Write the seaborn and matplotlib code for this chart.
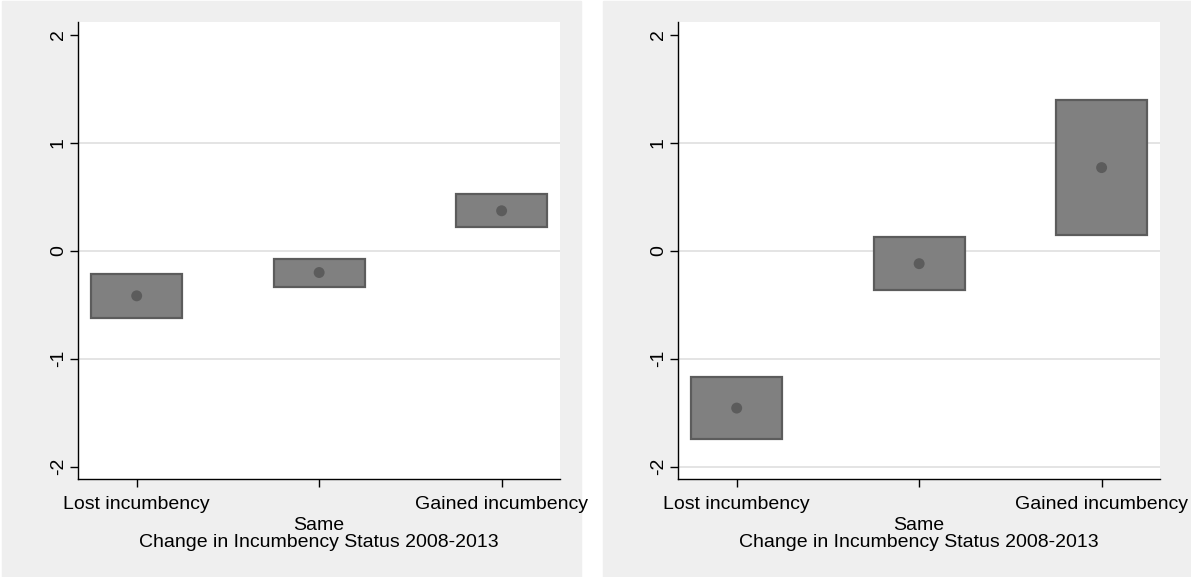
import numpy as np
import pandas as pd
import matplotlib
matplotlib.use("Agg")
import matplotlib.pyplot as plt
from matplotlib.patches import Rectangle
import seaborn as sns

# Categories of incumbency change
categories = ["Lost incumbency", "Same", "Gained incumbency"]

# Left panel: point estimates and confidence bounds
left_mean = [-0.417, -0.201, 0.371]
left_lo = [-0.621, -0.334, 0.225]
left_hi = [-0.213, -0.074, 0.528]

# Right panel: point estimates and confidence bounds
right_mean = [-1.457, -0.119, 0.771]
right_lo = [-1.747, -0.360, 0.144]
right_hi = [-1.170, 0.128, 1.398]

y_ticks = [-2, -1, 0, 1, 2]
left_grid = [-1, 0, 1]
right_grid = [-2, -1, 0, 1]
x_title = "Change in Incumbency Status 2008-2013"

sns.set_theme(style="white")
plt.rcParams["font.family"] = ["Liberation Sans", "DejaVu Sans"]

W, H = 1191, 577
fig = plt.figure(figsize=(W / 100, H / 100), dpi=100)
fig.patch.set_facecolor("white")

bg = "#efefef"
fig.patches.append(Rectangle((2 / W, 0), (581 - 2) / W, 1 - 1 / H,
                             transform=fig.transFigure, color=bg, zorder=-10))
fig.patches.append(Rectangle((603 / W, 0), (W - 603) / W, 1 - 1 / H,
                             transform=fig.transFigure, color=bg, zorder=-10))

ax_w = (560 - 78.3) / W
ax_b = 1 - 479 / H
ax_h = (479 - 22) / H
axes = [fig.add_axes([78.3 / W, ax_b, ax_w, ax_h]),
        fig.add_axes([678.3 / W, ax_b, ax_w, ax_h])]

panels = [(left_mean, left_lo, left_hi, left_grid),
          (right_mean, right_lo, right_hi, right_grid)]

box_fill = "#808080"
box_edge = "#5c5c5c"

for ax, (mean, lo, hi, grid) in zip(axes, panels):
    df = pd.DataFrame({"cat": categories, "mean": mean, "lo": lo, "hi": hi})
    ax.set_facecolor("white")
    for g in grid:
        ax.axhline(g, color="#e4e4e4", lw=1.4, zorder=0)
    xpos = np.arange(len(categories))
    ax.bar(xpos, df["hi"] - df["lo"], bottom=df["lo"], width=0.5,
           color=box_fill, edgecolor=box_edge, linewidth=1.6, zorder=2)
    sns.scatterplot(x=xpos, y=df["mean"], ax=ax, color=box_edge, s=62,
                    edgecolor="none", zorder=3)

    ax.set_xlim(-0.32, 2.32)
    ax.set_ylim(-2.114, 2.12)
    ax.set_xticks(xpos)
    ax.set_xticklabels(categories, fontsize=14, color="black")
    ax.set_yticks(y_ticks)
    ax.set_yticklabels([str(t) for t in y_ticks], fontsize=14, color="black",
                       rotation=90, va="center")
    ax.tick_params(axis="both", direction="out", length=5.8, width=1.0,
                   color="black", left=True, bottom=True)
    ax.tick_params(axis="y", pad=2.5)
    ax.tick_params(axis="x", pad=6.7)
    ticks = ax.xaxis.get_major_ticks()
    ticks[1].set_pad(21.7)
    ax.set_xlabel(x_title, fontsize=14, color="black", va="center")
    ax.xaxis.set_label_coords(0.5, -(542.7 - 479) / (479 - 22))
    ax.set_ylabel("")
    for side in ["top", "right"]:
        ax.spines[side].set_visible(False)
    for side in ["left", "bottom"]:
        ax.spines[side].set_color("black")
        ax.spines[side].set_linewidth(1.0)

fig.savefig("out.png", dpi=100)
